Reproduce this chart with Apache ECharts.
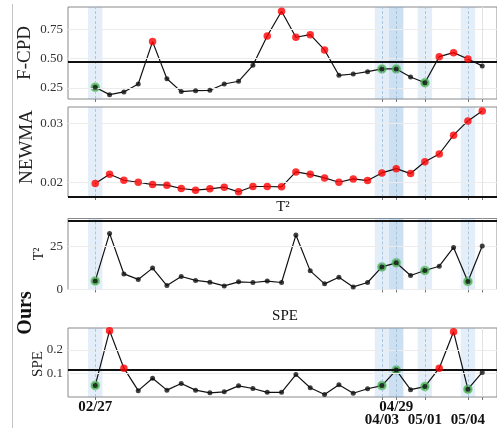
<!DOCTYPE html>
<html><head><meta charset="utf-8">
<script src="https://cdn.jsdelivr.net/npm/echarts@6/dist/echarts.min.js"></script>
<style>html,body{margin:0;padding:0;background:#fff}#c{width:497px;height:428px}</style>
</head><body><div id="c"></div>
<script>
// ---- data ----
const pointIdx = Array.from({length: 28}, (_, i) => i);
const fcpd  = [0.256,0.193,0.216,0.284,0.645,0.329,0.219,0.227,0.230,0.284,0.307,0.443,0.693,0.904,0.682,0.704,0.574,0.358,0.369,0.389,0.412,0.412,0.344,0.295,0.517,0.551,0.497,0.438];
const newma = [0.01978,0.02135,0.02034,0.0200,0.01961,0.0195,0.01894,0.01865,0.01888,0.01916,0.01838,0.01928,0.01928,0.01922,0.02175,0.02135,0.02074,0.0200,0.02057,0.02029,0.02158,0.02231,0.02147,0.02349,0.02479,0.02799,0.0304,0.03208];
const t2    = [5.0,32.8,9.1,5.9,12.5,2.3,7.6,5.3,4.3,2.1,4.5,4.1,4.9,4.1,31.8,10.9,3.3,7.2,1.5,4.1,13.2,15.6,8.2,11.1,13.6,24.6,4.7,25.4];
const spe   = [0.051,0.280,0.123,0.029,0.081,0.031,0.059,0.031,0.020,0.024,0.049,0.038,0.022,0.022,0.096,0.041,0.013,0.054,0.018,0.037,0.050,0.115,0.033,0.046,0.123,0.275,0.035,0.105];
const thresholds = [0.475, 0.01757, 40.3, 0.1175];
const eventIdx = [0, 20, 21, 23, 26];
const bandIdx = [0, 20, 21, 21, 23, 26];
const tickIdx = [0, 20, 21, 23, 26, 27];
const tickLabels = {0: '02/27', 20: '\n04/03', 21: '04/29', 23: '\n05/01', 26: '\n05/04'};
const panelNames = ['F-CPD', 'NEWMA', 'T²', 'SPE'];
const yTicks = [[0.25, 0.50, 0.75], [0.02, 0.03], [0, 25], [0.1, 0.2]];
const yDigits = [2, 2, 0, 1];
const yRanges = [[0.156, 0.94], [0.0175, 0.03276], [0, 41.5], [0.0024, 0.291]];
const series4 = [fcpd, newma, t2, spe];

// ---- layout ----
const grids = [
  {left: 68, right: 0, top: 7, height: 92},
  {left: 68, right: 0, top: 107, height: 90},
  {left: 68, right: 0, top: 218.5, height: 71},
  {left: 68, right: 0, top: 328, height: 71.5}
];
const SERIF = 'Liberation Serif';

const option = {
  animation: false,
  grid: grids.map(g => Object.assign({show: true, borderColor: '#8a8a8a', borderWidth: 1, backgroundColor: 'transparent'}, g)),
  xAxis: grids.map((g, k) => ({
    type: 'value', gridIndex: k, min: -1.9, max: 28.03,
    axisLine: {show: false},
    splitLine: {show: false},
    axisTick: {show: true, customValues: tickIdx, length: 3, lineStyle: {color: '#777'}},
    axisLabel: {
      show: k === 3, customValues: eventIdx, margin: 4,
      fontFamily: SERIF, fontWeight: 'bold', fontSize: 15, color: '#111', lineHeight: 13,
      formatter: v => tickLabels[Math.round(v)] || ''
    }
  })),
  yAxis: grids.map((g, k) => ({
    type: 'value', gridIndex: k, min: yRanges[k][0], max: yRanges[k][1],
    axisLine: {show: false},
    splitLine: {show: false},
    axisTick: {show: true, customValues: yTicks[k], length: 3, lineStyle: {color: '#777'}},
    axisLabel: {
      customValues: yTicks[k], margin: 5, fontFamily: SERIF, fontSize: 13, color: '#333',
      formatter: v => Number(v).toFixed(yDigits[k])
    }
  })),
  graphic: [
    {type: 'line', shape: {x1: 12.5, y1: 4, x2: 12.5, y2: 428}, style: {stroke: '#c4c4c4', lineWidth: 1}},
    {type: 'text', x: 25, y: 53, rotation: Math.PI / 2, style: {text: panelNames[0], font: '19px "Liberation Serif"', fill: '#222', align: 'center', verticalAlign: 'middle'}},
    {type: 'text', x: 27, y: 147, rotation: Math.PI / 2, style: {text: panelNames[1], font: '19px "Liberation Serif"', fill: '#222', align: 'center', verticalAlign: 'middle'}},
    {type: 'text', x: 39, y: 254, rotation: Math.PI / 2, style: {text: panelNames[2], font: '14px "Liberation Serif"', fill: '#222', align: 'center', verticalAlign: 'middle'}},
    {type: 'text', x: 38, y: 364, rotation: Math.PI / 2, style: {text: panelNames[3], font: '15px "Liberation Serif"', fill: '#222', align: 'center', verticalAlign: 'middle'}},
    {type: 'text', x: 26, y: 313, rotation: Math.PI / 2, style: {text: 'Ours', font: 'bold 20px "Liberation Serif"', fill: '#111', align: 'center', verticalAlign: 'middle'}},
    {type: 'text', x: 283, y: 207, style: {text: panelNames[2], font: '15px "Liberation Serif"', fill: '#111', align: 'center', verticalAlign: 'middle'}},
    {type: 'text', x: 285, y: 316, style: {text: panelNames[3], font: '15px "Liberation Serif"', fill: '#111', align: 'center', verticalAlign: 'middle'}}
  ],
  series: []
};

series4.forEach((vals, k) => {
  const thr = thresholds[k];
  const pts = pointIdx.map(i => [i, vals[i]]);
  const isRed = i => vals[i] > thr;
  const isGreen = i => eventIdx.includes(i) && !isRed(i);
  const gridLines = yTicks[k].map(v => ({yAxis: v, lineStyle: {color: '#ececec', width: 1, type: 'solid'}}));
  const vLines = eventIdx.map(i => ({xAxis: i, lineStyle: {color: '#9dbcd9', width: 0.8, type: [3, 2]}}));
  vLines.push({xAxis: 27, lineStyle: {color: '#e2e2e2', width: 1, type: 'solid'}});
  option.series.push({
    type: 'line', xAxisIndex: k, yAxisIndex: k, data: pts, showSymbol: false, silent: true,
    lineStyle: {color: '#111', width: 1.2}, z: 3,
    markArea: {silent: true, itemStyle: {color: 'rgba(91,155,213,0.17)'},
      data: bandIdx.map(i => [{xAxis: i - 0.5}, {xAxis: i + 0.5}])},
    markLine: {silent: true, symbol: 'none', label: {show: false}, precision: 8,
      data: gridLines.concat(vLines).concat([{yAxis: thr, lineStyle: {color: '#111', width: 1.8, type: 'solid'}}])}
  });
  option.series.push({
    type: 'scatter', xAxisIndex: k, yAxisIndex: k, silent: true, z: 4,
    data: pts.filter(p => isGreen(p[0])), symbolSize: 8.5,
    itemStyle: {color: '#45b04c', borderColor: 'rgba(69,176,76,0.45)', borderWidth: 1.5}
  });
  option.series.push({
    type: 'scatter', xAxisIndex: k, yAxisIndex: k, silent: true, z: 5,
    data: pts.filter(p => !isRed(p[0])), symbolSize: 5,
    itemStyle: {color: '#111'}
  });
  option.series.push({
    type: 'scatter', xAxisIndex: k, yAxisIndex: k, silent: true, z: 5,
    data: pts.filter(p => isRed(p[0])), symbolSize: 7.5,
    itemStyle: {color: '#ff0000'}
  });
});

const chart = echarts.init(document.getElementById('c'), null, {renderer: 'canvas'});
chart.setOption(option);
</script></body></html>
